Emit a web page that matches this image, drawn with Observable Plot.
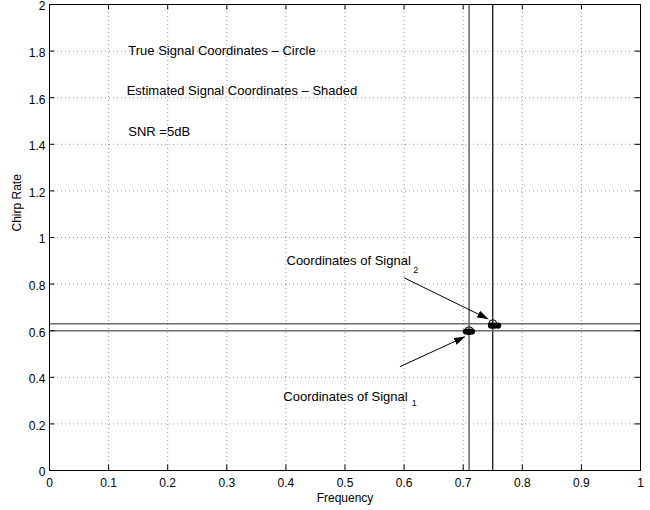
<!DOCTYPE html>
<html>
<head>
<meta charset="utf-8">
<script src="https://cdn.jsdelivr.net/npm/d3@7"></script>
<script src="https://cdn.jsdelivr.net/npm/@observablehq/plot@0.6"></script>
<style>
  html, body { margin: 0; padding: 0; background: #fff; }
</style>
</head>
<body>
<div id="chart"></div>
<script>
// ---- data ----
const xTicks = [0, 0.1, 0.2, 0.3, 0.4, 0.5, 0.6, 0.7, 0.8, 0.9, 1];
const yTicks = [0, 0.2, 0.4, 0.6, 0.8, 1, 1.2, 1.4, 1.6, 1.8, 2];

// true signal coordinates (frequency, chirp rate)
const trueFreq = [0.71, 0.75];
const trueChirp = [0.60, 0.63];

// estimated signal coordinates (shaded)
const estFreq1 = [0.7047, 0.7098, 0.7149];
const estChirp1 = [0.5966, 0.5966, 0.5966];
const estFreq2 = [0.747, 0.753, 0.759];
const estChirp2 = [0.622, 0.622, 0.622];

// annotations
const noteText = ["True Signal Coordinates \u2013 Circle", "Estimated Signal Coordinates \u2013 Shaded", "SNR =5dB"];
const noteX = [0.1333, 0.1306, 0.1333];
const noteY = [1.802, 1.630, 1.454];

const labelText = ["Coordinates of Signal", "Coordinates of Signal"];
const labelX = [0.3956, 0.401];
const labelY = [0.317, 0.899];
const subText = ["1", "2"];
const subX = [0.613, 0.6156];
const subY = [0.288, 0.861];

const arrowX1 = [0.593, 0.600];
const arrowY1 = [0.4455, 0.827];
const arrowX2 = [0.703, 0.7425];
const arrowY2 = [0.574, 0.650];

// ---- build tables ----
const trueSignals = trueFreq.map((f, i) => ({f, c: trueChirp[i]}));
const est = [
  ...estFreq1.map((f, i) => ({f, c: estChirp1[i]})),
  ...estFreq2.map((f, i) => ({f, c: estChirp2[i]}))
];
const notes = noteText.map((t, i) => ({t, x: noteX[i], y: noteY[i]}));
const labels = labelText.map((t, i) => ({t, x: labelX[i], y: labelY[i]}));
const subs = subText.map((t, i) => ({t, x: subX[i], y: subY[i]}));
const arrows = arrowX1.map((x1, i) => ({x1, y1: arrowY1[i], x2: arrowX2[i], y2: arrowY2[i]}));

function filledArrow(color, context) {
  const doc = (context && context.document) || document;
  const ns = "http://www.w3.org/2000/svg";
  const m = doc.createElementNS(ns, "marker");
  m.setAttribute("viewBox", "0 -5 10 10");
  m.setAttribute("refX", "10");
  m.setAttribute("refY", "0");
  m.setAttribute("markerUnits", "userSpaceOnUse");
  m.setAttribute("markerWidth", "11");
  m.setAttribute("markerHeight", "11");
  m.setAttribute("orient", "auto");
  const p = doc.createElementNS(ns, "path");
  p.setAttribute("d", "M0,-3.4L10,0L0,3.4Z");
  p.setAttribute("fill", color);
  p.setAttribute("stroke", "none");
  m.appendChild(p);
  return m;
}

const fmt = d3.format("~g");
const tx = 0.0093, ty = 0.0236;

const chart = Plot.plot({
  width: 650,
  height: 510,
  marginLeft: 49,
  marginRight: 10,
  marginTop: 4,
  marginBottom: 40,
  style: {fontFamily: "'Liberation Sans', Arial, Helvetica, sans-serif", fontSize: "12px", background: "#fff", color: "#000"},
  x: {domain: [0, 1]},
  y: {domain: [0, 2]},
  marks: [
    Plot.gridX(xTicks, {stroke: "#000", strokeOpacity: 0.4, strokeDasharray: "1,3"}),
    Plot.gridY(yTicks, {stroke: "#000", strokeOpacity: 0.4, strokeDasharray: "1,3"}),
    // crosshair lines through true coordinates
    Plot.ruleX([trueFreq[0]], {x: d => d, stroke: "#6e6e6e", strokeWidth: 1.6}),
    Plot.ruleX([trueFreq[1]], {x: d => d, stroke: "#000", strokeWidth: 1.2}),
    Plot.ruleY(trueChirp, {y: d => d, stroke: "#6e6e6e", strokeWidth: 1.6}),
    // inward ticks (all four sides)
    Plot.ruleX(xTicks, {x: d => d, y1: 0, y2: ty, stroke: "#000"}),
    Plot.ruleX(xTicks, {x: d => d, y1: 2, y2: 2 - ty, stroke: "#000"}),
    Plot.ruleY(yTicks, {y: d => d, x1: 0, x2: tx, stroke: "#000"}),
    Plot.ruleY(yTicks, {y: d => d, x1: 1, x2: 1 - tx, stroke: "#000"}),
    // true coordinates: open circles
    Plot.dot(trueSignals, {x: "f", y: "c", r: 4, stroke: "#000", strokeWidth: 1, fill: "none"}),
    // estimated coordinates: shaded
    Plot.dot(est, {x: "f", y: "c", r: 3.1, fill: "#000", stroke: "none"}),
    // arrows
    Plot.link(arrows, {x1: "x1", y1: "y1", x2: "x2", y2: "y2", stroke: "#000", strokeWidth: 1, markerEnd: filledArrow}),
    // texts
    Plot.text(notes, {x: "x", y: "y", text: "t", textAnchor: "start", fontSize: 13, fill: "#000"}),
    Plot.text(labels, {x: "x", y: "y", text: "t", textAnchor: "start", fontSize: 13, fill: "#000"}),
    Plot.text(subs, {x: "x", y: "y", text: "t", textAnchor: "start", fontSize: 9, fill: "#000"}),
    // axes
    Plot.axisX(xTicks, {tickSize: 0, tickPadding: 8, tickFormat: fmt, label: null, fontSize: 12}),
    Plot.axisY(yTicks, {tickSize: 0, tickPadding: 4, tickFormat: fmt, label: null, fontSize: 12, dy: 2}),
    Plot.text(["Frequency"], {text: d => d, frameAnchor: "bottom", dy: 31, fontSize: 12, fill: "#000"}),
    Plot.text(["Chirp Rate"], {text: d => d, frameAnchor: "left", dx: -32, dy: -6, rotate: -90, fontSize: 12, fill: "#000"}),
    Plot.frame({stroke: "#000", strokeWidth: 1})
  ]
});
document.getElementById("chart").appendChild(chart);
</script>
</body>
</html>
